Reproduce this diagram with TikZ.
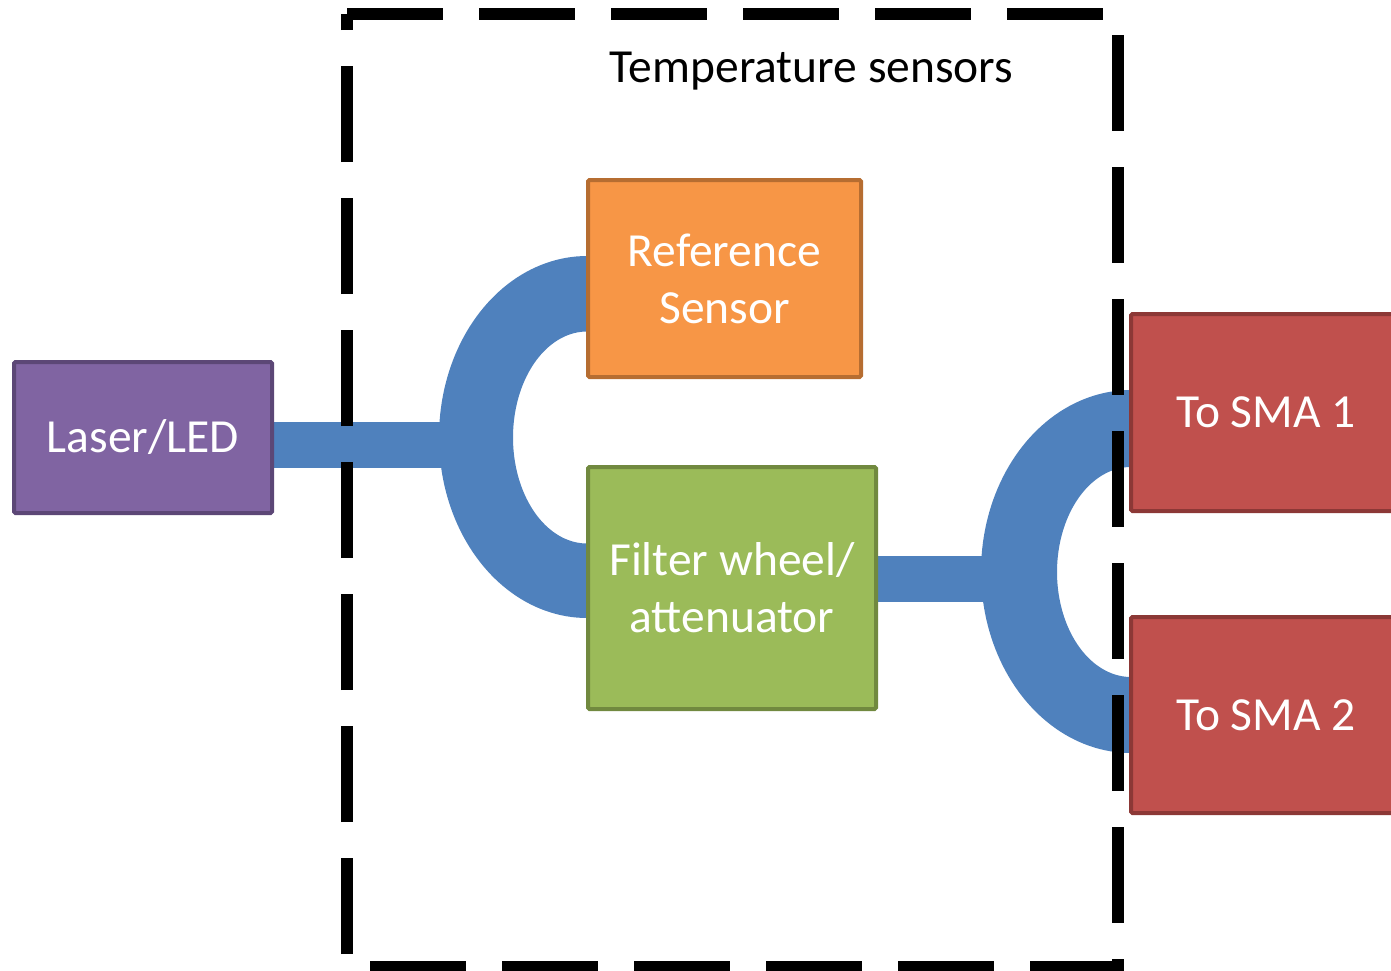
\documentclass[tikz,border=0pt]{standalone}
\usepackage{fontspec}
\setmainfont{Carlito}
\definecolor{fiberblue}{HTML}{4F81BD}
\definecolor{purplefill}{HTML}{8064A2}
\definecolor{purpleline}{HTML}{5C4776}
\definecolor{orangefill}{HTML}{F79646}
\definecolor{orangeline}{HTML}{B66D31}
\definecolor{greenfill}{HTML}{9BBB59}
\definecolor{greenline}{HTML}{71893F}
\definecolor{redfill}{HTML}{C0504D}
\definecolor{redline}{HTML}{8C3836}
\pgfdeclarelayer{fibres}
\pgfsetlayers{fibres,main}
\begin{document}
\begin{tikzpicture}[x=1pt,y=-1pt,
  labelfont/.style={font=\fontsize{47.5}{57}\selectfont},
  block/.style={draw, line width=4pt, rounded corners=1.5pt, inner sep=0pt,
    text=white, align=center, labelfont},
  fiber/.style={fill=fiberblue},
  fiberline/.style={draw=fiberblue, line width=46pt},
  enclosure/.style={draw=black, line width=12pt, dash pattern=on 96pt off 36pt, line join=miter}]
\useasboundingbox (0,0) rectangle (1391,970);
\clip (0,0) rectangle (1391,970);

% blocks
\node[block, fill=purplefill, draw=purpleline, minimum width=258pt, minimum height=151pt] (laser) at (143,437.5) {Laser/LED};
\node[block, fill=orangefill, draw=orangeline, minimum width=273pt, minimum height=197pt] (ref) at (724.5,278.5) {Reference\\Sensor};
\node[block, fill=greenfill, draw=greenline, minimum width=288pt, minimum height=242pt] (filter) at (732,588) {Filter wheel/\\attenuator};
\node[block, fill=redfill, draw=redline, minimum width=270pt, minimum height=197pt] (sma1) at (1266,412.5) {To SMA 1};
\node[block, fill=redfill, draw=redline, minimum width=270pt, minimum height=196pt] (sma2) at (1266,715) {To SMA 2};

% split points of the fibre couplers
\coordinate (splitL) at (470,445);
\coordinate (splitR) at (1010,579);

\begin{pgfonlayer}{fibres}
% laser to first coupler
\draw[fiberline] (laser.east |- splitL) -- (splitL);
% first coupler: half ring from the reference sensor to the filter wheel
\fill[fiber] (587,256)
  -- plot[domain=-90:-270, samples=90, variable=\t] ({587+148*cos(\t)}, {437+181*sin(\t)})
  -- (587,543)
  -- plot[domain=-270:-90, samples=90, variable=\t] ({587+74*cos(\t)}, {437.5+106*sin(\t)})
  -- cycle;
% filter wheel to second coupler
\draw[fiberline] (filter.east |- splitR) -- (splitR);
% second coupler: half ring to the two SMA outputs
\fill[fiber] (1131,390)
  -- plot[domain=-90:-270, samples=90, variable=\t] ({1131+150*cos(\t)}, {571.5+181.5*sin(\t)})
  -- (1131,677)
  -- plot[domain=-270:-90, samples=90, variable=\t] ({1131+74*cos(\t)}, {572+105*sin(\t)})
  -- cycle;
\end{pgfonlayer}

% dashed enclosure of the temperature sensor unit
\draw[enclosure] (347,14) -- (1118,14) -- (1118,967) -- (347,967) -- cycle;
\node[labelfont, anchor=base, inner sep=0pt] (title) at (811.5,82) {Temperature sensors};
\end{tikzpicture}
\end{document}
